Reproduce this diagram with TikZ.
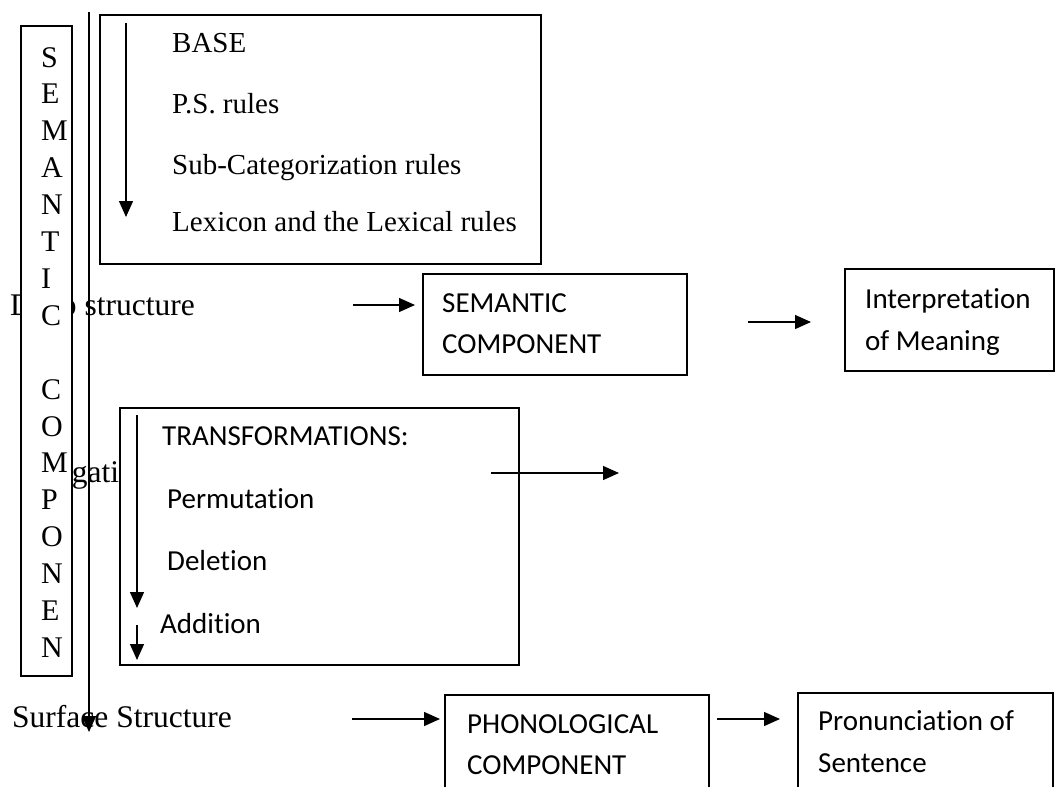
\documentclass[tikz,border=0pt]{standalone}
\usepackage{fontspec}
\setmainfont{Liberation Serif}
\newfontfamily\calfont[Ligatures=NoCommon]{Carlito}
\usetikzlibrary{arrows.meta}
\begin{document}
\begin{tikzpicture}[x=1pt,y=-1pt]
\tikzset{
    box/.style={draw, line width=1.6pt, fill=white, inner sep=0pt, anchor=north west},
    serif/.style={font=\fontsize{29}{34}\selectfont, anchor=base west, inner sep=0pt},
    biglbl/.style={font=\fontsize{31.5}{36}\selectfont, anchor=base west, inner sep=0pt},
    sans/.style={font=\calfont\fontsize{29}{34}\selectfont, anchor=base west, inner sep=0pt},
    arc/.style={-{Triangle[width=14pt,length=16pt]}, line width=1.4pt}
}
\useasboundingbox (0,0) rectangle (1055,787);
\clip (0,0) rectangle (1055,787);

% labels that the boxes partly hide
\draw node[biglbl] (deep) at (10,315) {Deep structure};
\draw node[biglbl] (neg) at (35,482) {Negation};
\draw node[biglbl] (surf) at (12,727) {Surface Structure};

% boxes
\draw node[box, minimum width=51pt, minimum height=650pt] (vbox) at (20,25) {};
\draw node[box, minimum width=441pt, minimum height=249pt] (basebox) at (99,14) {};
\draw node[box, minimum width=264pt, minimum height=101pt] (sembox) at (422,273) {};
\draw node[box, minimum width=209pt, minimum height=102pt] (intbox) at (844,268) {};
\draw node[box, minimum width=399pt, minimum height=257pt] (trbox) at (119,407) {};
\draw node[box, minimum width=264pt, minimum height=110pt] (phonbox) at (444,694) {};
\draw node[box, minimum width=255pt, minimum height=112pt] (pronbox) at (797,692) {};

% vertical letters
\foreach \k/\l in {0/S,1/E,2/M,3/A,4/N,5/T,6/I,7/C,9/C,10/O,11/M,12/P,13/O,14/N,15/E,16/N}{
\draw node[serif, font=\fontsize{30}{34}\selectfont] (let\k) at (41,{67+36.9*\k}) {\l};
}

% texts in the boxes
\draw node[serif] (base) at (172,52) {BASE};
\draw node[serif] (ps) at (172,113) {P.S. rules};
\draw node[serif] (subcat) at (172,174) {Sub-Categorization rules};
\draw node[serif] (lex) at (172,231) {Lexicon and the Lexical rules};
\draw node[sans] (sem1) at (442,312) {SEMANTIC};
\draw node[sans] (sem2) at (442,353) {COMPONENT};
\draw node[sans] (int1) at (865,308) {Interpretation};
\draw node[sans] (int2) at (865,350) {of Meaning};
\draw node[sans] (tr) at (162,445) {TRANSFORMATIONS:};
\draw node[sans] (perm) at (167,508) {Permutation};
\draw node[sans] (del) at (167,570) {Deletion};
\draw node[sans] (add) at (160,633) {Addition};
\draw node[sans] (phon1) at (467,733) {PHONOLOGICAL};
\draw node[sans] (phon2) at (467,774) {COMPONENT};
\draw node[sans] (pron1) at (818,730) {Pronunciation of};
\draw node[sans] (pron2) at (818,772) {Sentence};

% arrows
\coordinate (spinetop) at (89,12);
\coordinate (spinebot) at (89,732);
\coordinate (basetop) at (126,23);
\coordinate (basebot) at (126,217);
\coordinate (trtop) at (137,415);
\coordinate (trmid) at (137,608);
\coordinate (trlow) at (137,625);
\coordinate (trbot) at (137,660);
\coordinate (d1) at (353,305);
\coordinate (d2) at (415,305);
\coordinate (s1) at (748,322);
\coordinate (s2) at (811,322);
\coordinate (t1) at (491,473);
\coordinate (t2) at (619,473);
\coordinate (f1) at (352,719);
\coordinate (f2) at (440,719);
\coordinate (p1) at (717,719);
\coordinate (p2) at (780,719);
\foreach \x/\y in {%
    spinetop/spinebot,basetop/basebot,trtop/trmid,trlow/trbot,%
    d1/d2,s1/s2,t1/t2,f1/f2,p1/p2%
}{
\draw (\x) edge[arc] (\y);
}
\end{tikzpicture}
\end{document}
